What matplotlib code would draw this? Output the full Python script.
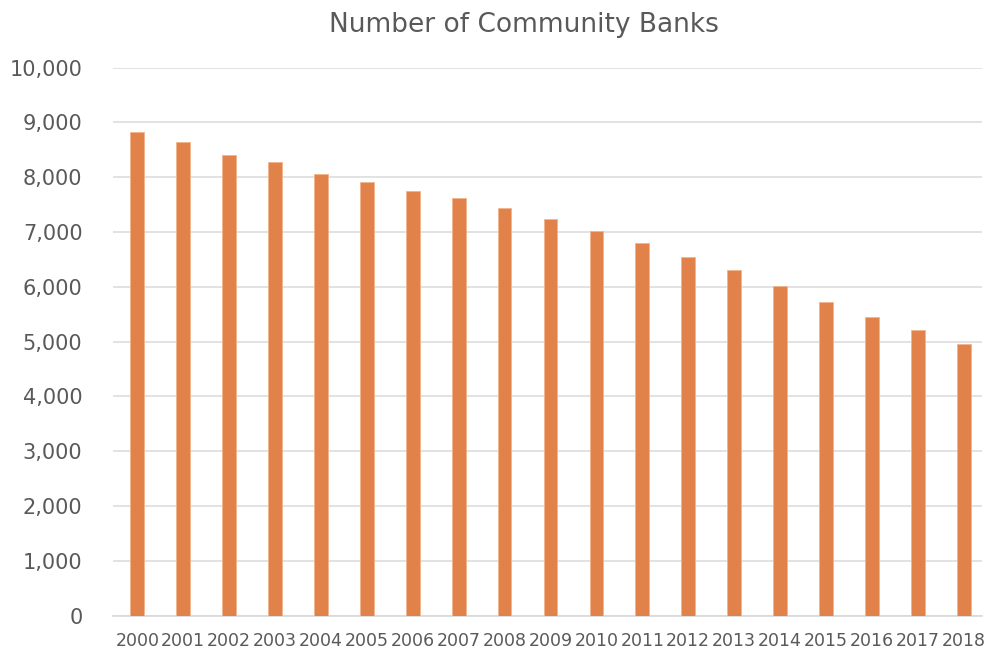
import numpy as np
from matplotlib import pyplot as plt
from matplotlib.ticker import FuncFormatter

years = [str(y) for y in range(2000, 2019)]
banks = [8829, 8635, 8409, 8275, 8051, 7910, 7746, 7619, 7436, 7241,
         7022, 6797, 6536, 6310, 6018, 5726, 5441, 5215, 4960]

bar_color = '#E0824A'
text_color = '#595959'

fig = plt.figure(figsize=(9.85, 6.53), dpi=100)
ax = fig.add_axes([113 / 985, 1 - 615.5 / 653, (982 - 113) / 985, (615.5 - 67.5) / 653])

x = np.arange(len(years))
ax.bar(x, banks, width=0.3, color=bar_color, edgecolor='#F2B48C', linewidth=0.6, zorder=3)

ax.set_ylim(0, 10000)
ax.set_xlim(-0.53, 18.4)
ax.set_yticks(np.arange(0, 10001, 1000))
ax.yaxis.set_major_formatter(FuncFormatter(lambda v, p: '{:,.0f}'.format(v)))
ax.set_xticks(x)
ax.set_xticklabels(years)

ax.grid(axis='y', color='#DDDDDD', linewidth=1.2, zorder=0)
for s in ['top', 'right', 'left']:
    ax.spines[s].set_visible(False)
ax.spines['bottom'].set_color('#D9D9D9')
ax.spines['bottom'].set_linewidth(1.2)

ax.tick_params(axis='y', length=0, pad=22, labelsize=15, labelcolor=text_color)
ax.tick_params(axis='x', length=0, pad=12, labelsize=12.5, labelcolor=text_color)

fig.text(524 / 985, 1 - 25 / 653, 'Number of Community Banks', ha='center', va='center',
         fontsize=19, color=text_color)

fig.savefig('out.png', dpi=100)
